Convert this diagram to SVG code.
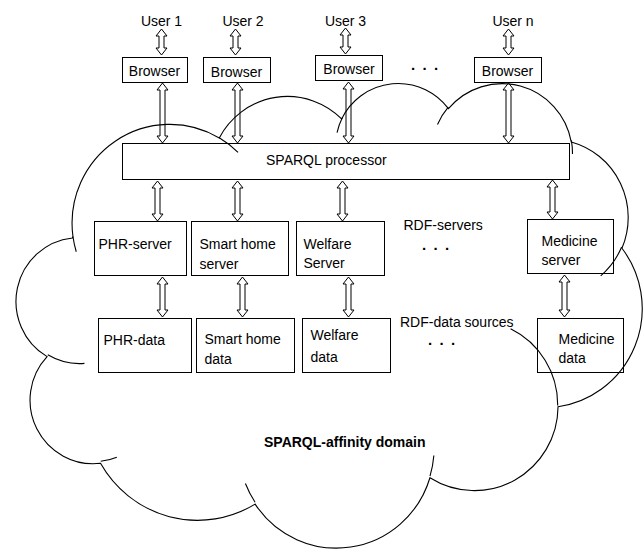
<svg xmlns="http://www.w3.org/2000/svg" width="643" height="550" viewBox="0 0 643 550">
  <style>
    .box { fill: #fff; stroke: #000; stroke-width: 1; }
    .arr { fill: #fff; stroke: #000; stroke-width: 1; stroke-linejoin: miter; }
    .t { font-family: "Liberation Sans", Arial, sans-serif; font-size: 14px; fill: #000; }
    .c { text-anchor: middle; }
    .b { font-weight: bold; }
    .dots { font-family: "Liberation Sans", Arial, sans-serif; font-size: 15px; font-weight: bold; letter-spacing: 1.6px; fill: #000; }
    .cloud { fill: none; stroke: #000; stroke-width: 1.1; }
  </style>

  <!-- users -->
  <g id="user-1"><text class="t c" x="161.5" y="25.5">User 1</text></g>
  <g id="user-2"><text class="t c" x="243" y="25.5">User 2</text></g>
  <g id="user-3"><text class="t c" x="345.5" y="25.5">User 3</text></g>
  <g id="user-n"><text class="t c" x="513" y="25.5">User n</text></g>

  <!-- browsers -->
  <g id="browser-1"><rect class="box" x="122.5" y="57.5" width="65" height="25"/><text class="t c" x="154.5" y="76">Browser</text></g>
  <g id="browser-2"><rect class="box" x="203.5" y="57.5" width="67" height="25"/><text class="t c" x="236.5" y="76.5">Browser</text></g>
  <g id="browser-3"><rect class="box" x="315.5" y="55.5" width="67" height="25"/><text class="t c" x="349" y="74">Browser</text></g>
  <g id="browser-n"><rect class="box" x="474.5" y="57.5" width="67" height="25"/><text class="t c" x="507.5" y="76">Browser</text></g>
  <g id="browser-more"><text class="dots" x="411" y="70">. . .</text></g>

  <!-- query processor -->
  <g id="sparql-processor"><rect class="box" x="122.5" y="143.5" width="447" height="36"/><text class="t" x="266" y="165">SPARQL processor</text></g>

  <!-- RDF servers -->
  <g id="phr-server"><rect class="box" x="94.5" y="221.5" width="92" height="54"/><text class="t" x="98.5" y="249">PHR-server</text></g>
  <g id="smart-home-server"><rect class="box" x="191.5" y="221.5" width="97" height="54"/><text class="t" x="199.5" y="249">Smart home</text><text class="t" x="199.5" y="268.5">server</text></g>
  <g id="welfare-server"><rect class="box" x="296.5" y="221.5" width="88" height="54"/><text class="t" x="303.5" y="249">Welfare</text><text class="t" x="303.5" y="267.5">Server</text></g>
  <g id="medicine-server"><rect class="box" x="527.5" y="219.5" width="86" height="54"/><text class="t" x="541.5" y="245.5">Medicine</text><text class="t" x="541.5" y="265">server</text></g>
  <g id="rdf-servers-label"><text class="t" x="403.5" y="229.5">RDF-servers</text><text class="dots" x="422" y="250">. . .</text></g>

  <!-- RDF data sources -->
  <g id="phr-data"><rect class="box" x="98.5" y="318.5" width="93" height="54"/><text class="t" x="103.5" y="345">PHR-data</text></g>
  <g id="smart-home-data"><rect class="box" x="196.5" y="318.5" width="98" height="54"/><text class="t" x="204.5" y="344">Smart home</text><text class="t" x="204.5" y="363.5">data</text></g>
  <g id="welfare-data"><rect class="box" x="302.5" y="318.5" width="88" height="54"/><text class="t" x="310.5" y="340">Welfare</text><text class="t" x="310.5" y="361.5">data</text></g>
  <g id="medicine-data"><rect class="box" x="537.5" y="318.5" width="86" height="54"/><text class="t" x="558.5" y="344">Medicine</text><text class="t" x="558.5" y="363">data</text></g>
  <g id="rdf-data-label"><text class="t" x="400" y="327">RDF-data sources</text><text class="dots" x="428" y="345">. . .</text></g>

  <!-- two-way block arrows -->
  <g id="connectors">
    <path class="arr" d="M161.5,29 L167,36 L164,36 L164,48 L167,48 L161.5,55 L156,48 L159,48 L159,36 L156,36 Z"/>
    <path class="arr" d="M235.5,29 L241,36 L238,36 L238,48 L241,48 L235.5,55 L230,48 L233,48 L233,36 L230,36 Z"/>
    <path class="arr" d="M345.5,28 L351,35 L348,35 L348,47 L351,47 L345.5,54 L340,47 L343,47 L343,35 L340,35 Z"/>
    <path class="arr" d="M508.5,29 L514,36 L511,36 L511,48 L514,48 L508.5,55 L503,48 L506,48 L506,36 L503,36 Z"/>

    <path class="arr" d="M162.5,83 L168,90 L165,90 L165,136 L168,136 L162.5,143 L157,136 L160,136 L160,90 L157,90 Z"/>
    <path class="arr" d="M237.5,83 L243,90 L240,90 L240,136 L243,136 L237.5,143 L232,136 L235,136 L235,90 L232,90 Z"/>
    <path class="arr" d="M348.5,82 L354,89 L351,89 L351,136 L354,136 L348.5,143 L343,136 L346,136 L346,89 L343,89 Z"/>
    <path class="arr" d="M508.5,83 L514,90 L511,90 L511,136 L514,136 L508.5,143 L503,136 L506,136 L506,90 L503,90 Z"/>

    <path class="arr" d="M157.5,181 L163,188 L160,188 L160,214 L163,214 L157.5,221 L152,214 L155,214 L155,188 L152,188 Z"/>
    <path class="arr" d="M237.5,181 L243,188 L240,188 L240,214 L243,214 L237.5,221 L232,214 L235,214 L235,188 L232,188 Z"/>
    <path class="arr" d="M342.5,181 L348,188 L345,188 L345,214 L348,214 L342.5,221 L337,214 L340,214 L340,188 L337,188 Z"/>
    <path class="arr" d="M552.5,180 L558,187 L555,187 L555,212 L558,212 L552.5,219 L547,212 L550,212 L550,187 L547,187 Z"/>

    <path class="arr" d="M162.5,277 L168,284 L165,284 L165,310 L168,310 L162.5,317 L157,310 L160,310 L160,284 L157,284 Z"/>
    <path class="arr" d="M242.5,277 L248,284 L245,284 L245,310 L248,310 L242.5,317 L237,310 L240,310 L240,284 L237,284 Z"/>
    <path class="arr" d="M348.5,277 L354,284 L351,284 L351,310 L354,310 L348.5,317 L343,310 L346,310 L346,284 L343,284 Z"/>
    <path class="arr" d="M564.5,275 L570,282 L567,282 L567,310 L570,310 L564.5,317 L559,310 L562,310 L562,282 L559,282 Z"/>
  </g>

  <!-- domain cloud: outline plus inner bump tails -->
  <g id="affinity-domain">
    <path class="cloud" d="M72.96,236.48
      A97.77,98.79 0 0 1 219.27,137.92
      A77.21,78.12 0 0 1 341.63,118.91
      A63.20,63.91 0 0 1 448.44,108.69
      A70.32,70.90 0 0 1 571.28,141.98
      A77.21,78.18 0 0 1 621.95,248.23
      A98.09,99.12 0 0 1 558.04,406.71
      A83.75,84.57 0 0 1 429.94,477.77
      A97.76,99.06 0 0 1 255.10,504.11
      A111.77,113.34 0 0 1 100.52,463.31
      A63.12,63.62 0 0 1 47.09,356.64
      A62.91,63.91 0 0 1 72.43,237.93 Z"/>
    <path class="cloud" d="M84.45,363.40 A62.91,63.91 0 0 1 47.76,354.83
      M116.80,457.16 A63.12,63.62 0 0 1 100.76,461.27
      M255.07,502.22 A97.76,99.06 0 0 1 245.41,483.52
      M433.86,455.57 A97.76,99.06 0 0 1 430.00,476.10
      M510.62,328.76 A83.75,84.57 0 0 1 557.69,405.46
      M621.65,247.06 A77.21,78.18 0 0 1 600.70,275.82
      M571.36,140.33 A70.32,70.90 0 0 1 572.46,153.91
      M437.49,124.48 A70.32,70.90 0 0 1 448.24,107.14
      M337.06,132.74 A63.20,63.91 0 0 1 342.26,117.79
      M219.19,137.81 A97.77,98.79 0 0 1 238.03,152.33
      M76.25,251.73 A97.77,98.79 0 0 1 72.97,236.48"/>
    <text class="t b" x="264" y="446.5">SPARQL-affinity domain</text>
  </g>
</svg>
